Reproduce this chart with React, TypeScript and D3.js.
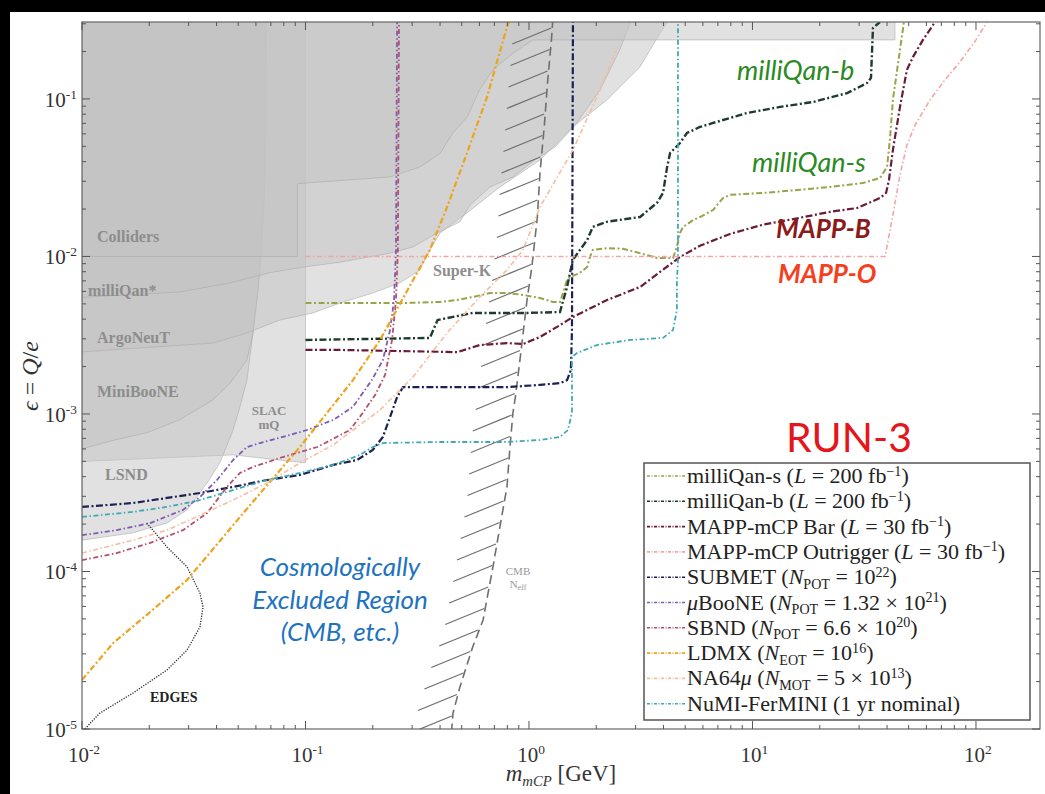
import React from "react";
import * as d3 from "d3";

type P = [number, number];

// ---------- data (mass in GeV, epsilon = Q/e) ----------
const milliQanS: P[] = [[0.1,0.00507],[0.2,0.00507],[0.284,0.00507],[0.40,0.00514],[0.477,0.00529],[0.56,0.00553],[0.67,0.00586],[0.80,0.00586],[0.94,0.0057],[1.12,0.00545],[1.28,0.00514],[1.376,0.00514],[1.42,0.00586],[1.48,0.00709],[1.53,0.00741],[1.69,0.00786],[1.82,0.00858],[1.875,0.00993],[1.93,0.011],[2.23,0.0113],[2.63,0.0112],[3.14,0.0105],[3.74,0.00978],[4.41,0.00978],[4.59,0.0115],[4.74,0.0141],[4.89,0.0154],[5.42,0.017],[5.82,0.0178],[6.66,0.0197],[7.38,0.0235],[7.93,0.0246],[11.1,0.0253],[15.8,0.0264],[22.2,0.0276],[31.2,0.0293],[37.2,0.0315],[40.0,0.037],[41.2,0.055],[42.5,0.099],[45.7,0.205],[47.6,0.308]];
const milliQanB: P[] = [[0.1,0.00295],[0.36,0.00304],[0.39,0.00395],[0.56,0.00438],[0.8,0.00438],[0.98,0.00438],[1.376,0.00444],[1.48,0.0064],[1.57,0.0095],[1.69,0.011],[1.82,0.0127],[1.93,0.0154],[2.23,0.0166],[3.14,0.0178],[3.74,0.0219],[3.98,0.0253],[4.15,0.037],[4.28,0.0454],[4.74,0.0525],[5.09,0.0608],[5.82,0.0664],[6.66,0.0704],[9.45,0.0815],[13.3,0.089],[18.7,0.0957],[26.5,0.109],[32.5,0.126],[33.9,0.136],[34.6,0.282],[37.2,0.308]];
const mappBar: P[] = [[0.1,0.00255],[0.143,0.00255],[0.477,0.00247],[0.603,0.00274],[0.797,0.00282],[0.94,0.00278],[1.12,0.00308],[1.335,0.00357],[1.573,0.00413],[2.234,0.00529],[3.14,0.0064],[4.74,0.00993],[5.82,0.0117],[7.93,0.0139],[11.1,0.0159],[16.3,0.0176],[22.2,0.0192],[29.4,0.0203],[37.2,0.0235],[39.6,0.0253],[40.8,0.0306],[42.5,0.0475],[45.7,0.089],[49.1,0.153],[52.3,0.185],[57.9,0.237],[65.6,0.308]];
const mappOut: P[] = [[0.1,0.01],[39.2,0.01],[42.5,0.0184],[45.7,0.0329],[49.1,0.051],[53.4,0.0684],[62.3,0.0986],[72.6,0.132],[84.8,0.172],[100,0.237],[112,0.308]];
const submet: P[] = [[0.01,0.000257],[0.0169,0.000272],[0.024,0.000293],[0.0337,0.000315],[0.0474,0.000344],[0.0673,0.000381],[0.0944,0.00041],[0.133,0.000475],[0.17,0.00051],[0.2,0.000591],[0.222,0.000715],[0.239,0.000957],[0.257,0.00128],[0.273,0.00148],[0.40,0.00148],[0.80,0.00148],[1.12,0.00153],[1.376,0.00157],[1.48,0.00164],[1.54,0.0019],[1.557,0.00341],[1.573,0.308]];
const microBooNE: P[] = [[0.01,0.00017],[0.0143,0.000183],[0.0202,0.000203],[0.0283,0.000246],[0.0337,0.000297],[0.0402,0.000381],[0.0474,0.00051],[0.0547,0.000617],[0.0625,0.000654],[0.0793,0.000715],[0.1016,0.000791],[0.133,0.000916],[0.163,0.00111],[0.175,0.00128],[0.198,0.00164],[0.222,0.0022],[0.239,0.00341],[0.249,0.00529],[0.254,0.011],[0.257,0.308]];
const sbnd: P[] = [[0.01,0.000118],[0.0143,0.000131],[0.0202,0.000152],[0.0283,0.000183],[0.0363,0.000235],[0.0445,0.000344],[0.0509,0.000422],[0.0582,0.000461],[0.0793,0.000533],[0.113,0.000617],[0.158,0.000791],[0.175,0.000957],[0.205,0.00132],[0.227,0.00177],[0.244,0.00295],[0.254,0.00529],[0.259,0.011],[0.262,0.308]];
const ldmx: P[] = [[0.01,2.05e-5],[0.0138,3.52e-5],[0.0202,5.53e-5],[0.0295,8.83e-5],[0.0565,0.000264],[0.0944,0.000617],[0.163,0.00164],[0.2155,0.00295],[0.303,0.00709],[0.36,0.011],[0.43,0.0206],[0.528,0.0454],[0.649,0.103],[0.797,0.287],[0.814,0.308]];
const na64mu: P[] = [[0.01,0.000131],[0.0169,0.000158],[0.024,0.000183],[0.0337,0.000228],[0.0474,0.000284],[0.0673,0.000365],[0.0944,0.000489],[0.133,0.000636],[0.175,0.000852],[0.2155,0.00106],[0.303,0.00172],[0.43,0.00327],[0.603,0.00553],[0.797,0.00821],[0.94,0.011],[1.12,0.0206],[1.573,0.0475],[2.08,0.114],[2.48,0.214]];
const numiFermini: P[] = [[0.01,0.000222],[0.0169,0.000239],[0.024,0.000257],[0.0337,0.000284],[0.0474,0.000329],[0.0673,0.000381],[0.0944,0.000422],[0.133,0.000475],[0.175,0.000549],[0.2,0.000617],[0.222,0.000654],[0.40,0.000664],[0.80,0.000664],[1.12,0.000684],[1.376,0.000715],[1.494,0.000791],[1.557,0.00102],[1.557,0.0023],[1.64,0.00244],[2.015,0.00274],[2.83,0.00295],[3.98,0.00304],[4.41,0.00341],[4.59,0.00457],[4.59,0.00679],[4.64,0.0095],[4.64,0.308]];
const edges: P[] = [[0.0195,0.000203],[0.024,0.000143],[0.0295,0.000107],[0.0337,7.3e-5],[0.0348,5.95e-5],[0.0337,4.44e-5],[0.0295,3.17e-5],[0.024,2.37e-5],[0.0169,1.69e-5],[0.012,1.26e-5],[0.0105,1.03e-5],[0.0099,9.5e-6]];
const cmbNeff: P[] = [[0.45,9.5e-6],[0.457,1.26e-5],[0.491,1.85e-5],[0.56,3.32e-5],[0.623,4.92e-5],[0.69,0.000107],[0.741,0.000192],[0.797,0.000344],[0.822,0.000617],[0.848,0.00102],[0.87,0.0013],[0.911,0.0022],[0.98,0.00529],[1.03,0.00858],[1.09,0.0178],[1.12,0.0339],[1.17,0.0664],[1.21,0.126],[1.26,0.237],[1.28,0.33]];

// excluded regions (closed polygons)
const colliders: P[] = [[0.01,0.33],[43.4,0.33],[43.4,0.237],[1.04,0.237],[0.85,0.196],[0.69,0.153],[0.60,0.114],[0.53,0.077],[0.457,0.061],[0.40,0.045],[0.325,0.037],[0.239,0.032],[0.092,0.029],[0.092,0.01],[0.01,0.01]];
const milliQanStar: P[] = [[0.01,0.33],[0.01,0.0055],[0.0274,0.00595],[0.046,0.0068],[0.0694,0.0079],[0.1,0.0086],[0.143,0.0092],[0.239,0.0105],[0.303,0.0115],[0.388,0.0141],[0.491,0.0166],[0.545,0.0212],[0.669,0.0276],[0.848,0.032],[1.06,0.041],[1.31,0.0496],[1.61,0.0684],[2.08,0.114],[2.55,0.205],[2.9,0.33]];
const argoNeuT: P[] = [[0.01,0.33],[0.01,0.00248],[0.0386,0.00282],[0.0547,0.00327],[0.0768,0.00395],[0.108,0.00438],[0.143,0.00507],[0.2,0.00586],[0.265,0.0068],[0.325,0.0082],[0.361,0.011],[0.40,0.0141],[0.528,0.0189],[0.741,0.0276],[1.12,0.041],[1.57,0.0664],[2.23,0.0986],[3.14,0.16],[3.86,0.262],[4.3,0.33]];
const miniBooNE: P[] = [[0.01,0.33],[0.01,0.0006],[0.0138,0.00068],[0.0195,0.00076],[0.0274,0.00092],[0.0386,0.00123],[0.046,0.00157],[0.0547,0.0022],[0.0582,0.00327],[0.0613,0.0061],[0.0639,0.0127],[0.0659,0.0306],[0.0666,0.33]];
const lsnd: P[] = [[0.01,0.33],[0.01,0.000158],[0.0169,0.000176],[0.024,0.000203],[0.0295,0.000246],[0.0363,0.000365],[0.0414,0.00049],[0.0474,0.00079],[0.0509,0.00111],[0.0547,0.00164],[0.0582,0.00327],[0.0613,0.0061],[0.0639,0.0127],[0.0659,0.0306],[0.0666,0.33]];
const slacMQ: P[] = [[0.01,0.33],[0.01,0.0005],[0.0474,0.00055],[0.0673,0.00052],[0.1,0.00049],[0.1,0.33]];

const xMajorExps = [-2, -1, 0, 1, 2];
const yMajorExps = [-5, -4, -3, -2, -1];

const seriesData = [milliQanS, milliQanB, mappBar, mappOut, submet, microBooNE, sbnd, ldmx, na64mu, numiFermini];
const legendLabels = [
  "milliQan-s (*L* = 200 fb^{−1})",
  "milliQan-b (*L* = 200 fb^{−1})",
  "MAPP-mCP Bar (*L* = 30 fb^{−1})",
  "MAPP-mCP Outrigger (*L* = 30 fb^{−1})",
  "SUBMET (*N*_{POT} = 10^{22})",
  "*μ*BooNE (*N*_{POT} = 1.32 × 10^{21})",
  "SBND (*N*_{POT} = 6.6 × 10^{20})",
  "LDMX (*N*_{EOT} = 10^{16})",
  "NA64*μ* (*N*_{MOT} = 5 × 10^{13})",
  "NuMI-FerMINI (1 yr nominal)",
];
const regionData = [slacMQ, lsnd, miniBooNE, argoNeuT, milliQanStar, colliders];

// ---------- styles ----------
const seriesStyles = [
  { color: "#9aa24a", dash: "6,2.5,2,2.5", width: 2 },
  { color: "#1f3b2d", dash: "7,2.5,2,2.5", width: 2.4 },
  { color: "#6a1a3b", dash: "7,2.5,2,2.5", width: 2.2 },
  { color: "#f4a4a4", dash: "5,2.5,1.5,2.5", width: 1.6 },
  { color: "#1d2052", dash: "7,2.5,2,2.5", width: 2.2 },
  { color: "#7c5cb4", dash: "5,2.5,1.5,2.5", width: 1.8 },
  { color: "#b4506a", dash: "5,2.5,1.5,2.5", width: 1.8 },
  { color: "#eea31c", dash: "6,2.5,2,2.5", width: 2.2 },
  { color: "#f6bda0", dash: "5,2.5,1.5,2.5", width: 1.6 },
  { color: "#3fa9b4", dash: "5,2.5,1.5,2.5", width: 1.8 },
];

const W = 1045, H = 794;
const PL = 82, PR = 1040, PT = 22, PB = 729;
const xs = d3.scaleLog().domain([0.01, 193.4]).range([PL, PR]);
const ys = d3.scaleLog().domain([1e-5, 0.308]).range([PB, PT]);
const line = d3.line<P>().x((d) => xs(d[0])).y((d) => ys(d[1]));

const SERIF = "'Liberation Serif', 'Times New Roman', serif";
const SANS = "Lato, 'Open Sans', sans-serif";

type Seg = { t: string; it: boolean; mode: number };
function parseRich(s: string): Seg[] {
  const segs: Seg[] = [];
  let it = false, buf = "", i = 0;
  const push = (mode: number) => { if (buf) segs.push({ t: buf, it, mode }); buf = ""; };
  while (i < s.length) {
    const c = s[i];
    if (c === "*") { push(0); it = !it; i++; continue; }
    if ((c === "_" || c === "^") && s[i + 1] === "{") {
      push(0);
      const end = s.indexOf("}", i);
      buf = s.slice(i + 2, end);
      push(c === "^" ? 1 : -1);
      i = end + 1;
      continue;
    }
    buf += c; i++;
  }
  push(0);
  return segs;
}

function Rich(props: { s: string; x: number; y: number; size: number; anchor?: string; fill?: string; transform?: string; sup?: number }) {
  const { s, x, y, size, anchor = "start", fill = "#111", transform, sup = 0.4 } = props;
  const segs = parseRich(s);
  let cur = 0;
  return (
    <text x={x} y={y} fontSize={size} fontFamily={SERIF} textAnchor={anchor} fill={fill} transform={transform}>
      {segs.map((g, k) => {
        const target = g.mode === 1 ? -size * sup : g.mode === -1 ? size * 0.2 : 0;
        const dy = target - cur;
        cur = target;
        return (
          <tspan key={k} dy={dy} fontStyle={g.it ? "italic" : "normal"} fontSize={g.mode ? size * 0.64 : size}>
            {g.t}
          </tspan>
        );
      })}
    </text>
  );
}

export default function App() {
  React.useEffect(() => { document.body.style.margin = "0"; }, []);

  const xMinor: number[] = [];
  for (let e = -2; e <= 2; e++) for (let k = 2; k <= 9; k++) { const v = k * Math.pow(10, e); if (v < 193.4) xMinor.push(v); }
  const yMinor: number[] = [];
  for (let e = -5; e <= -1; e++) for (let k = 2; k <= 9; k++) { const v = k * Math.pow(10, e); if (v <= 0.308) yMinor.push(v); }

  // CMB hatching: short diagonal strokes hanging off the boundary
  const cmbPx = cmbNeff.map((d) => [xs(d[0]), ys(d[1])]);
  const hatches: { x: number; y: number }[] = [];
  for (let yy = 28; yy < 722; yy += 21.5) {
    for (let k = 0; k < cmbPx.length - 1; k++) {
      const [x0, y0] = cmbPx[k];
      const [x1, y1] = cmbPx[k + 1];
      if (yy <= y0 && yy >= y1) {
        const t = (yy - y0) / (y1 - y0);
        hatches.push({ x: x0 + t * (x1 - x0), y: yy });
        break;
      }
    }
  }

  const legX = 644, legY = 463, legW = 386, legH = 257, rowH = 25.3;

  return (
    <svg width={W} height={H} style={{ position: "absolute", left: 0, top: 0, display: "block" }}>
      <defs>
        <clipPath id="plotclip"><rect x={PL} y={PT} width={PR - PL} height={PB - PT} /></clipPath>
      </defs>
      <rect x={0} y={0} width={W} height={H} fill="#000" />
      <rect x={10} y={12} width={W - 10} height={H - 12} fill="#fff" />

      <g clipPath="url(#plotclip)">
        {regionData.map((r, i) => (
          <path key={i} d={line(r) + "Z"} fill="#c4c4c4" fillOpacity={0.5} stroke="#a8a8a8" strokeWidth={0.8} strokeOpacity={0.7} />
        ))}
        {/* CMB Neff */}
        {hatches.map((h, i) => (
          <line key={i} x1={h.x - 1} y1={h.y} x2={h.x - 40} y2={h.y + 16} stroke="#6f6f6f" strokeWidth={1.2} />
        ))}
        <path d={line(cmbNeff) ?? ""} fill="none" stroke="#6f6f6f" strokeWidth={1.6} strokeDasharray="9,5" />
        {/* EDGES */}
        <path d={line(edges) ?? ""} fill="none" stroke="#222" strokeWidth={1.3} strokeDasharray="1.2,1.4" />
        {seriesData.map((s, i) => (
          <path key={i} d={line(s) ?? ""} fill="none" stroke={seriesStyles[i].color} strokeWidth={seriesStyles[i].width} strokeDasharray={seriesStyles[i].dash} />
        ))}
      </g>

      {/* frame & ticks */}
      <rect x={PL} y={PT} width={PR - PL} height={PB - PT} fill="none" stroke="#666" strokeWidth={1.2} />
      {xMajorExps.map((e) => {
        const x = xs(Math.pow(10, e));
        return (
          <g key={"xM" + e}>
            <line x1={x} x2={x} y1={PB} y2={PB - 8} stroke="#555" strokeWidth={1} />
            <line x1={x} x2={x} y1={PT} y2={PT + 8} stroke="#555" strokeWidth={1} />
            <Rich s={`10^{${e}}`} x={x + 2} y={762} size={21} anchor="middle" fill="#333" />
          </g>
        );
      })}
      {xMinor.map((v, i) => {
        const x = xs(v);
        return (
          <g key={"xm" + i}>
            <line x1={x} x2={x} y1={PB} y2={PB - 4} stroke="#555" strokeWidth={1} />
            <line x1={x} x2={x} y1={PT} y2={PT + 4} stroke="#555" strokeWidth={1} />
          </g>
        );
      })}
      {yMajorExps.map((e) => {
        const y = ys(Math.pow(10, e));
        return (
          <g key={"yM" + e}>
            <line x1={PL} x2={PL + 8} y1={y} y2={y} stroke="#555" strokeWidth={1} />
            <line x1={PR} x2={PR - 8} y1={y} y2={y} stroke="#555" strokeWidth={1} />
            <Rich s={`10^{${e}}`} x={77} y={y + 8} size={21} anchor="end" fill="#333" />
          </g>
        );
      })}
      {yMinor.map((v, i) => {
        const y = ys(v);
        return (
          <g key={"ym" + i}>
            <line x1={PL} x2={PL + 4} y1={y} y2={y} stroke="#555" strokeWidth={1} />
            <line x1={PR} x2={PR - 4} y1={y} y2={y} stroke="#555" strokeWidth={1} />
          </g>
        );
      })}

      {/* axis titles */}
      <Rich s="*m_{mCP}* [GeV]" x={561} y={781} size={23} anchor="middle" fill="#333" />
      <Rich s="*ϵ* = *Q*/*e*" x={0} y={0} size={24} anchor="middle" fill="#333" transform="translate(38,376) rotate(-90)" />

      {/* region labels */}
      <g fontFamily={SERIF} fontWeight="bold" fill="#8d8d8d" fontSize={16}>
        <text x={97} y={242}>Colliders</text>
        <text x={88} y={296}>milliQan*</text>
        <text x={97} y={343}>ArgoNeuT</text>
        <text x={97} y={397}>MiniBooNE</text>
        <text x={105} y={480}>LSND</text>
        <text x={269} y={415} textAnchor="middle" fontSize={13}>SLAC</text>
        <text x={269} y={429} textAnchor="middle" fontSize={13}>mQ</text>
        <text x={433} y={276}>Super-K</text>
      </g>
      <g fontFamily={SERIF} fill="#999" fontSize={11} textAnchor="middle">
        <text x={518} y={575}>CMB</text>
        <text x={518} y={588}>N<tspan fontSize={8} dy={2}>eff</tspan></text>
      </g>
      <text x={150} y={702} fontFamily={SERIF} fontWeight="bold" fontSize={14} fill="#222">EDGES</text>

      {/* colored annotations */}
      <g fontFamily={SANS} fontStyle="italic">
        <text x={737} y={80} fontSize={27} fill="#2b8a1f">milliQan-b</text>
        <text x={752} y={172} fontSize={27} fill="#2b8a1f">milliQan-s</text>
        <text x={776} y={238} fontSize={26} fontWeight="bold" fill="#8b1a1a">MAPP-B</text>
        <text x={778} y={283} fontSize={26} fontWeight="bold" fill="#f5401e">MAPP-O</text>
        <text x={340} y={576} fontSize={26} fill="#1e73be" textAnchor="middle">Cosmologically</text>
        <text x={340} y={609} fontSize={26} fill="#1e73be" textAnchor="middle">Excluded Region</text>
        <text x={340} y={641} fontSize={26} fill="#1e73be" textAnchor="middle">(CMB, etc.)</text>
      </g>
      <text x={786} y={452} fontFamily={SANS} fontSize={41} fill="#e4161b">RUN-3</text>

      {/* legend */}
      <rect x={legX} y={legY} width={legW} height={legH} fill="#fff" stroke="#555" strokeWidth={1.5} />
      {legendLabels.map((lab, i) => {
        const cy = legY + 13 + i * rowH;
        return (
          <g key={i}>
            <line x1={legX + 3} x2={legX + 42} y1={cy} y2={cy} stroke={seriesStyles[i].color} strokeWidth={1.6} strokeDasharray="3,1.5,1,1.5" />
            <Rich s={lab} x={legX + 43} y={cy + 7} size={22} fill="#222" sup={0.34} />
          </g>
        );
      })}
    </svg>
  );
}
